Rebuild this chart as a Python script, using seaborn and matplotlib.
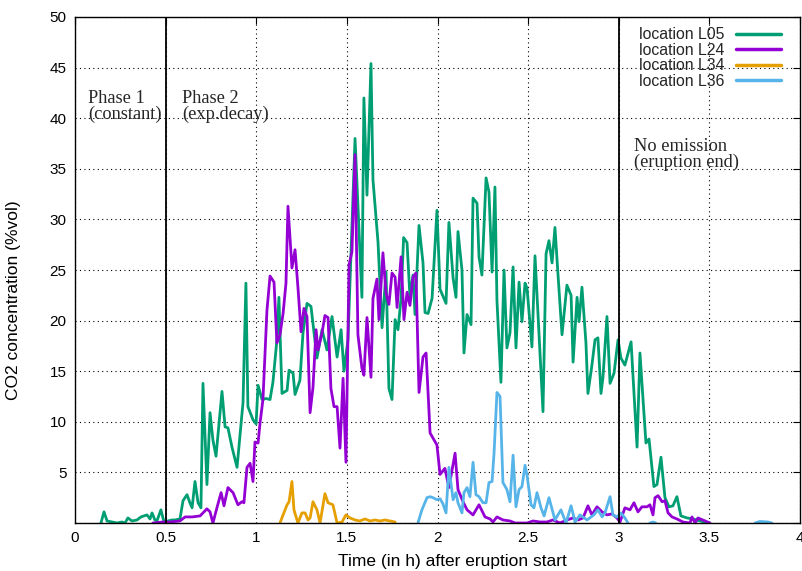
import seaborn as sns
import matplotlib.pyplot as plt
import matplotlib as mpl
import numpy as np
import pandas as pd

# location L05
l05_t = [0.143, 0.160, 0.177, 0.204, 0.232, 0.259, 0.276, 0.292, 0.314, 0.342, 0.364, 0.397,
         0.414, 0.425, 0.441, 0.452, 0.474, 0.491, 0.513, 0.535, 0.552, 0.579, 0.596, 0.618,
         0.634, 0.646, 0.662, 0.679, 0.695, 0.706, 0.728, 0.745, 0.761, 0.778, 0.811, 0.828,
         0.844, 0.866, 0.894, 0.927, 0.943, 0.954, 0.982, 0.999, 1.010, 1.032, 1.054, 1.076,
         1.092, 1.114, 1.125, 1.142, 1.170, 1.181, 1.203, 1.214, 1.241, 1.258, 1.280, 1.302,
         1.335, 1.363, 1.390, 1.418, 1.446, 1.468, 1.484, 1.506, 1.545, 1.583, 1.594, 1.611,
         1.633, 1.644, 1.672, 1.694, 1.716, 1.732, 1.749, 1.766, 1.782, 1.799, 1.813, 1.832,
         1.848, 1.865, 1.876, 1.898, 1.920, 1.931, 1.948, 1.970, 1.997, 2.014, 2.047, 2.063,
         2.086, 2.102, 2.113, 2.135, 2.146, 2.163, 2.185, 2.196, 2.218, 2.229, 2.245, 2.268,
         2.284, 2.301, 2.317, 2.328, 2.350, 2.367, 2.383, 2.400, 2.417, 2.433, 2.450, 2.466,
         2.483, 2.494, 2.521, 2.538, 2.560, 2.582, 2.599, 2.615, 2.632, 2.648, 2.665, 2.687,
         2.714, 2.737, 2.748, 2.770, 2.781, 2.797, 2.819, 2.830, 2.852, 2.869, 2.885, 2.902,
         2.913, 2.935, 2.952, 2.974, 2.996, 3.012, 3.034, 3.068, 3.101, 3.117, 3.150, 3.167,
         3.194, 3.211, 3.233, 3.255, 3.277, 3.299, 3.321, 3.343, 3.377, 3.410, 3.448, 3.503]
l05_v = [0.0, 1.1, 0.2, 0.1, 0.0, 0.1, 0.0, 0.5, 0.2, 0.3, 0.6, 0.8,
         0.4, 1.0, 0.3, 0.2, 1.3, 0.1, 0.2, 0.3, 0.3, 0.4, 2.2, 2.8,
         2.0, 1.5, 4.1, 2.0, 1.5, 13.8, 3.8, 10.9, 8.2, 6.6, 13.0, 9.5,
         9.4, 7.5, 5.5, 11.9, 23.7, 11.5, 10.2, 9.8, 13.6, 12.2, 12.3, 12.2,
         13.9, 18.1, 22.3, 12.8, 13.1, 15.1, 14.8, 12.7, 14.1, 18.8, 21.7, 21.4,
         16.3, 19.1, 17.1, 20.4, 16.4, 19.1, 15.0, 18.1, 38.0, 22.3, 42.0, 32.4,
         45.4, 33.9, 27.7, 19.3, 24.8, 13.3, 12.2, 20.1, 19.1, 22.2, 28.2, 27.7,
         22.3, 24.5, 20.6, 29.4, 25.7, 20.8, 20.7, 22.2, 30.9, 23.1, 21.7, 29.7,
         24.2, 22.3, 28.8, 25.0, 16.8, 20.6, 19.6, 32.1, 31.6, 26.3, 24.5, 34.1,
         32.7, 24.8, 33.2, 22.0, 13.9, 25.0, 17.3, 18.8, 25.3, 17.3, 23.8, 19.9,
         23.7, 23.2, 17.4, 26.4, 18.8, 11.0, 26.6, 27.9, 25.7, 29.2, 24.5, 18.6,
         23.5, 22.5, 15.9, 22.3, 19.9, 23.3, 17.8, 12.8, 15.6, 18.1, 18.3, 12.8,
         14.4, 20.4, 13.8, 14.8, 18.1, 16.3, 15.6, 17.9, 7.5, 16.8, 7.9, 8.3,
         3.6, 3.8, 6.5, 2.5, 1.6, 1.7, 2.6, 0.7, 0.5, 0.4, 0.2, 0.0]

# location L24
l24_t = [0.430, 0.486, 0.524, 0.579, 0.607, 0.646, 0.690, 0.728, 0.745, 0.761, 0.783, 0.806,
         0.822, 0.844, 0.872, 0.883, 0.899, 0.921, 0.932, 0.949, 0.966, 0.982, 0.993, 1.010,
         1.021, 1.037, 1.059, 1.076, 1.098, 1.114, 1.131, 1.148, 1.164, 1.175, 1.197, 1.214,
         1.230, 1.247, 1.263, 1.280, 1.297, 1.313, 1.330, 1.341, 1.363, 1.379, 1.396, 1.412,
         1.429, 1.446, 1.462, 1.479, 1.495, 1.512, 1.528, 1.545, 1.561, 1.583, 1.594, 1.611,
         1.633, 1.644, 1.666, 1.677, 1.699, 1.716, 1.732, 1.749, 1.766, 1.777, 1.799, 1.815,
         1.832, 1.848, 1.865, 1.881, 1.898, 1.920, 1.937, 1.959, 1.997, 2.014, 2.041, 2.063,
         2.097, 2.113, 2.141, 2.163, 2.196, 2.229, 2.262, 2.290, 2.306, 2.328, 2.361, 2.400,
         2.428, 2.466, 2.494, 2.527, 2.566, 2.604, 2.637, 2.676, 2.714, 2.748, 2.775, 2.803,
         2.830, 2.852, 2.880, 2.908, 2.935, 2.963, 2.990, 3.007, 3.034, 3.062, 3.084, 3.106,
         3.128, 3.156, 3.172, 3.189, 3.200, 3.217, 3.239, 3.255, 3.272, 3.294, 3.321, 3.354,
         3.393, 3.404, 3.421, 3.437, 3.476, 3.503]
l24_v = [0.0, 0.1, 0.1, 0.2, 0.6, 0.6, 0.7, 1.4, 1.1, 0.0, 1.5, 3.0,
         1.7, 3.5, 3.0, 2.5, 1.8, 2.1, 2.0, 5.5, 5.9, 4.1, 8.0, 7.9,
         9.9, 12.2, 21.0, 24.4, 23.8, 17.8, 18.6, 20.7, 23.7, 31.3, 25.2, 27.0,
         23.3, 18.9, 21.2, 20.4, 10.9, 13.4, 19.1, 17.1, 18.8, 20.5, 20.3, 13.3,
         11.5, 11.5, 7.4, 14.3, 6.0, 25.5, 26.8, 36.4, 18.6, 15.3, 14.6, 20.3,
         14.4, 22.2, 24.1, 20.1, 26.7, 22.7, 21.6, 24.7, 24.3, 21.3, 26.3, 20.1,
         22.8, 21.5, 24.3, 24.7, 12.9, 16.4, 16.8, 8.9, 7.7, 4.8, 5.4, 3.5,
         6.9, 3.3, 2.1, 1.3, 0.8, 1.8, 0.6, 0.4, 0.1, 0.6, 0.3, 0.2,
         0.0, 0.0, 0.0, 0.2, 0.1, 0.1, 0.3, 0.0, 0.3, 0.5, 0.3, 0.5,
         1.7, 0.8, 1.6, 1.1, 0.8, 0.9, 0.5, 0.1, 1.5, 1.3, 2.0, 1.1,
         1.6, 1.6, 1.8, 0.8, 2.5, 2.7, 2.1, 2.2, 1.0, 0.6, 0.4, 0.1,
         0.0, 0.6, 0.0, 0.5, 0.2, 0.0]

# location L34
l34_t = [1.131, 1.148, 1.170, 1.181, 1.197, 1.208, 1.230, 1.252, 1.269, 1.286, 1.297, 1.313,
         1.335, 1.352, 1.379, 1.396, 1.423, 1.446, 1.473, 1.495, 1.517, 1.545, 1.572, 1.600,
         1.628, 1.655, 1.683, 1.710, 1.738, 1.766]
l34_v = [0.0, 0.8, 1.8, 2.1, 4.1, 1.3, 0.0, 1.0, 1.0, 0.3, 0.5, 2.1,
         1.3, 0.0, 2.9, 2.0, 1.8, 0.0, 0.1, 0.8, 0.5, 0.3, 0.2, 0.4,
         0.2, 0.3, 0.2, 0.3, 0.2, 0.1]

# location L36 (three separate pieces)
l36_t = [1.892, 1.914, 1.942, 1.959, 1.975, 1.997, 2.014, 2.030, 2.047, 2.063, 2.086, 2.102,
         2.113, 2.135, 2.146, 2.163, 2.179, 2.196, 2.212, 2.229, 2.251, 2.268, 2.284, 2.301,
         2.312, 2.328, 2.345, 2.361, 2.383, 2.400, 2.417, 2.433, 2.450, 2.466, 2.483, 2.494,
         2.516, 2.532, 2.549, 2.571, 2.588, 2.615, 2.648, 2.681, 2.709, 2.737, 2.759, 2.786,
         2.825, 2.863, 2.885, 2.908, 2.924, 2.952, 2.968, 2.990, 3.012, 3.034, 3.051,
         3.172, 3.189, 3.205,
         3.752, 3.779, 3.823, 3.845]
l36_v = [0.0, 1.3, 2.5, 2.6, 2.5, 2.3, 2.4, 1.9, 1.0, 5.5, 2.3, 3.0,
         2.0, 1.0, 3.0, 3.5, 2.6, 6.0, 2.8, 2.6, 2.0, 2.0, 4.0, 4.1,
         6.9, 12.9, 12.5, 4.0, 3.3, 2.1, 6.7, 1.6, 3.3, 3.6, 5.7, 4.7,
         1.8, 1.5, 3.0, 1.5, 0.7, 2.5, 0.3, 1.3, 0.0, 1.7, 0.1, 0.8,
         0.3, 0.8, 1.3, 0.6, 1.0, 2.6, 0.8, 0.6, 1.0, 0.5, 0.0,
         0.0, 0.1, 0.0,
         0.0, 0.15, 0.1, 0.0]
l36_seg = [0] * 59 + [1] * 3 + [2] * 4

locations = ["location L05", "location L24", "location L34", "location L36"]
colors = ["#009e73", "#9400d3", "#e69f00", "#56b4e9"]

frames = [
    pd.DataFrame({"t": l05_t, "v": l05_v, "loc": locations[0], "seg": "a0"}),
    pd.DataFrame({"t": l24_t, "v": l24_v, "loc": locations[1], "seg": "b0"}),
    pd.DataFrame({"t": l34_t, "v": l34_v, "loc": locations[2], "seg": "c0"}),
    pd.DataFrame({"t": l36_t, "v": l36_v, "loc": locations[3],
                  "seg": ["d%d" % s for s in l36_seg]}),
]
df = pd.concat(frames, ignore_index=True)

sns.set_theme(style="white")
plt.rcParams["font.family"] = ["Liberation Sans", "DejaVu Sans"]
mpl.rcParams["xtick.direction"] = "in"
mpl.rcParams["ytick.direction"] = "in"

fig = plt.figure(figsize=(8.02, 5.71), dpi=100)
ax = fig.add_axes([75 / 802, 48 / 571, 725 / 802, 506 / 571])

sns.lineplot(data=df, x="t", y="v", hue="loc", units="seg", estimator=None,
             palette=dict(zip(locations, colors)), linewidth=2.0, ax=ax, sort=False)

# phase boundaries
for xb in [0.5, 3.0]:
    ax.axvline(xb, color="black", linewidth=1.3, zorder=3)

serif = ["Liberation Serif", "DejaVu Serif"]
note_kw = dict(family=serif, fontsize=13.2, va="top", ha="left", linespacing=0.9)
ax.text(0.072, 42.8, "Phase 1\n(constant)", **note_kw)
ax.text(0.590, 42.8, "Phase 2\n(exp.decay)", **note_kw)
ax.text(3.084, 38.0, "No emission\n(eruption end)", **note_kw)

ax.set_xlim(0, 4)
ax.set_ylim(0, 50)
ax.set_xticks(np.arange(0, 4.01, 0.5))
ax.set_xticklabels(["0", "0.5", "1", "1.5", "2", "2.5", "3", "3.5", "4"])
ax.set_yticks(np.arange(0, 50.1, 5))
ax.set_yticklabels([""] + [str(v) for v in range(5, 51, 5)])
ax.tick_params(axis="both", which="major", length=5, width=0.8, color="black",
               labelsize=11, labelcolor="black", top=True, right=True, pad=6)
ax.grid(True, color="black", linestyle=(0, (1, 3)), linewidth=0.8)
for s in ax.spines.values():
    s.set_color("black")
    s.set_linewidth(1.0)

ax.set_xlabel("Time (in h) after eruption start", fontsize=12.5, color="black")
ax.xaxis.set_label_coords(0.521, -0.062)
ax.set_ylabel("CO2 concentration (%vol)", fontsize=12.5, color="black")
ax.yaxis.set_label_coords(-0.074, 0.441)

leg = ax.legend(loc="upper right", bbox_to_anchor=(0.974, 0.980), frameon=False,
                markerfirst=False, fontsize=11.4, handlelength=2.87,
                handletextpad=0.7, labelspacing=0.03, borderaxespad=0.0, borderpad=0.0)
for line in leg.get_lines():
    line.set_linewidth(2.5)

fig.savefig("out.png", dpi=100)
